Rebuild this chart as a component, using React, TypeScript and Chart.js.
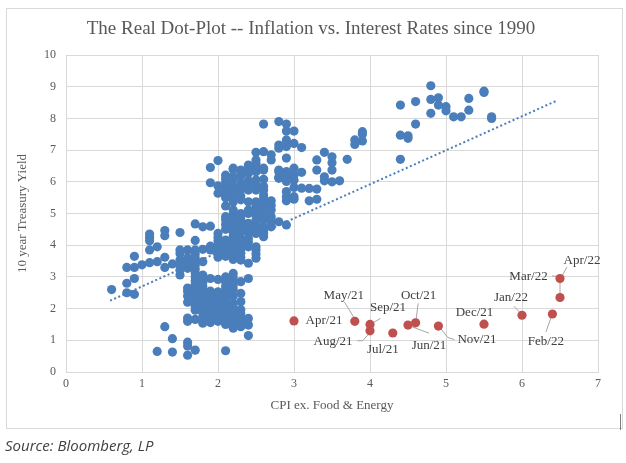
import React, { useEffect, useRef } from 'react';
import { Chart, registerables } from 'chart.js';

Chart.register(...registerables);

// ---- Data ----
const chartTitle = 'The Real Dot-Plot -- Inflation vs. Interest Rates since 1990';
const xAxisTitle = 'CPI ex. Food & Energy';
const yAxisTitle = '10 year Treasury Yield';
const sourceText = 'Source: Bloomberg, LP';

// Historical (1990 - Mar 2021): core CPI levels and the 10y yields observed at each level
const blueCpiLevels = [
  0.6, 0.8, 0.9, 1.0, 1.1, 1.2, 1.3, 1.4, 1.5, 1.6, 1.7, 1.8, 1.9, 2.0, 2.1, 2.2, 2.3, 2.4,
  2.5, 2.6, 2.7, 2.8, 2.9, 3.0, 3.1, 3.2, 3.3, 3.4, 3.5, 3.6, 3.7, 3.8, 3.9, 4.4, 4.5, 4.6,
  4.8, 4.9, 5.0, 5.1, 5.2, 5.3, 5.5, 5.6,
];
const blueYieldsByLevel = [
  [2.6],
  [2.5, 2.8, 3.3],
  [2.45, 2.95, 3.3, 3.65],
  [3.38],
  [3.45, 3.85, 4.14, 4.25, 4.35],
  [0.65, 3.48, 3.95],
  [1.43, 3.3, 3.62, 4.3, 4.46],
  [0.63, 1.05, 3.41],
  [3.06, 3.22, 3.38, 3.53, 3.74, 3.85, 4.4],
  [0.53, 0.82, 0.94, 1.6, 1.7, 2.2, 2.4, 2.55, 2.65, 3.27, 3.43, 3.6, 3.85],
  [0.69, 1.66, 1.95, 2.05, 2.16, 2.28, 2.4, 2.52, 2.64, 2.76, 2.88, 3.0, 3.12, 3.24, 3.36, 3.48, 3.6, 3.72, 3.85, 4.15, 4.67],
  [1.54, 1.62, 1.74, 1.86, 1.98, 2.1, 2.22, 2.34, 2.46, 2.58, 2.7, 2.82, 2.94, 3.06, 3.48, 3.87, 4.58],
  [1.56, 1.68, 1.8, 1.92, 2.04, 2.16, 2.28, 2.4, 2.55, 2.95, 3.85, 3.97, 4.6, 5.97, 6.45],
  [1.6, 1.69, 1.81, 1.93, 2.05, 2.17, 2.29, 2.41, 2.53, 2.92, 3.62, 3.75, 3.88, 4.0, 4.13, 4.25, 4.37, 5.64, 5.87, 6.67],
  [0.67, 1.5, 1.62, 1.74, 1.86, 1.98, 2.1, 2.22, 2.34, 2.46, 2.58, 2.7, 2.85, 3.0, 3.65, 3.8, 3.92, 4.05, 4.16, 4.5, 4.65, 4.8, 4.9, 5.24, 5.5, 5.6, 5.73, 5.85, 5.97, 6.09, 6.21],
  [1.38, 1.45, 1.57, 1.69, 1.81, 1.93, 2.05, 2.17, 2.4, 2.6, 2.72, 2.85, 2.98, 3.11, 3.55, 3.68, 3.8, 3.92, 4.04, 4.16, 4.28, 4.4, 4.52, 4.64, 4.76, 4.88, 5.0, 5.11, 5.36, 5.48, 5.6, 5.73, 5.85, 6.08, 6.16, 6.39, 6.43],
  [1.43, 1.5, 1.6, 1.72, 1.84, 1.96, 2.22, 2.48, 2.85, 3.53, 3.62, 3.75, 3.86, 3.98, 4.1, 4.22, 4.4, 4.55, 4.7, 4.8, 4.9, 5.0, 5.43, 5.55, 5.74, 5.82, 5.95, 6.18, 6.32, 6.37],
  [1.15, 1.48, 1.69, 2.95, 3.43, 3.95, 4.1, 4.22, 4.4, 4.55, 4.69, 5.0, 5.11, 5.37, 5.74, 5.95, 6.03, 6.27, 6.32, 6.5, 6.53],
  [3.59, 3.72, 3.85, 3.95, 4.37, 4.48, 4.58, 4.69, 4.8, 4.95, 5.11, 5.24, 5.37, 5.74, 5.9, 6.06, 6.32, 6.43, 6.48, 6.58, 6.69, 6.93],
  [4.27, 4.37, 4.48, 4.58, 4.8, 4.98, 5.11, 5.24, 5.36, 5.48, 5.58, 5.74, 5.85, 6.08, 6.37, 6.43, 6.95, 7.82],
  [4.58, 4.74, 4.9, 5.11, 5.25, 5.4, 6.69, 6.85],
  [4.74, 6.11, 6.14, 6.32, 6.37, 7.06, 7.16, 7.9],
  [4.64, 5.4, 5.53, 5.69, 6.01, 6.14, 6.27, 6.32, 6.75, 7.11, 7.21, 7.32, 7.6, 7.82],
  [5.45, 5.53, 5.82, 6.05, 6.21, 6.43, 7.21, 7.6],
  [5.8, 6.3, 7.08],
  [5.4, 5.79],
  [5.45, 5.77, 6.37, 6.69],
  [6.03, 6.16, 6.93],
  [6.0, 6.37, 6.6, 6.79],
  [6.03],
  [6.71],
  [7.18, 7.32],
  [7.29, 7.5, 7.58],
  [6.71, 7.47, 8.42],
  [7.37, 7.45],
  [7.82, 8.53],
  [8.16, 8.6, 9.03],
  [8.42, 8.65],
  [8.24, 8.37],
  [8.05],
  [8.05],
  [8.26, 8.63],
  [8.82, 8.86],
  [8.0, 8.05],
];

// Recent months (Apr/21 - Apr/22)
const redMonths = ['Apr/21', 'May/21', 'Jun/21', 'Jul/21', 'Aug/21', 'Sep/21', 'Oct/21', 'Nov/21', 'Dec/21', 'Jan/22', 'Feb/22', 'Mar/22', 'Apr/22'];
const redCpi = [3.0, 3.8, 4.5, 4.3, 4.0, 4.0, 4.6, 4.9, 5.5, 6.0, 6.4, 6.5, 6.5];
const redYield = [1.61, 1.6, 1.48, 1.23, 1.3, 1.5, 1.55, 1.45, 1.51, 1.79, 1.83, 2.35, 2.95];

// Linear trendline endpoints
const trendCpi = [0.58, 6.45];
const trendYield = [2.25, 8.55];

// Label placement (pixel offsets from each red point): text centre and leader polyline
const labelLayout: { dx: number; dy: number; leader: number[][] }[] = [
  { dx: 30, dy: 0, leader: [] },
  { dx: -11, dy: -26, leader: [[-10.5, -19.5], [-1, -4]] },
  { dx: 21, dy: 20, leader: [[2, 1], [21, 8]] },
  { dx: -10, dy: 17, leader: [] },
  { dx: -37, dy: 11, leader: [[-12.5, 10], [-7.5, 10], [-1, 3]] },
  { dx: 18, dy: -17, leader: [[10.5, -6], [2, -1]] },
  { dx: 3, dy: -27, leader: [[2.5, -19.5], [0.5, -3]] },
  { dx: 38.5, dy: 14, leader: [[1.5, 1.5], [9.5, 11.5], [16, 13.5]] },
  { dx: -9.5, dy: -12, leader: [] },
  { dx: -11, dy: -18, leader: [[-8, -9], [-1, -1.5]] },
  { dx: -6.5, dy: 28, leader: [[-6.5, 18], [-1, 2.5]] },
  { dx: -31.5, dy: -21, leader: [[-8, -21.5], [0, -21], [0, -3]] },
  { dx: 22, dy: -17.5, leader: [[1, -1], [7, -11.5]] },
];

const BLUE = '#4a7ebb';
const RED = '#c0504d';
const GRID = '#d9d9d9';
const TEXT = '#595959';
const SERIF = "'Liberation Serif', 'DejaVu Serif', serif";

const labelPlugin = {
  id: 'redLabels',
  beforeDatasetsDraw(chart: any) {
    const meta = chart.getDatasetMeta(1);
    const ctx = chart.ctx;
    ctx.save();
    ctx.strokeStyle = '#a6a6a6';
    ctx.lineWidth = 1;
    meta.data.forEach((pt: any, i: number) => {
      const lay = labelLayout[i];
      if (!lay || lay.leader.length < 2) return;
      ctx.beginPath();
      lay.leader.forEach((p, j) => {
        const x = pt.x + p[0];
        const y = pt.y + p[1];
        if (j === 0) ctx.moveTo(x, y);
        else ctx.lineTo(x, y);
      });
      ctx.stroke();
    });
    ctx.restore();
  },
  afterDatasetsDraw(chart: any) {
    const meta = chart.getDatasetMeta(1);
    const ctx = chart.ctx;
    ctx.save();
    ctx.fillStyle = '#404040';
    ctx.font = `13px ${SERIF}`;
    ctx.textAlign = 'center';
    ctx.textBaseline = 'middle';
    meta.data.forEach((pt: any, i: number) => {
      const lay = labelLayout[i];
      ctx.fillText(redMonths[i], pt.x + lay.dx, pt.y + lay.dy);
    });
    ctx.restore();
  },
};

export default function App() {
  const canvasRef = useRef<HTMLCanvasElement | null>(null);

  useEffect(() => {
    document.body.style.margin = '0';
    const canvas = canvasRef.current;
    if (!canvas) return;

    const bluePoints: { x: number; y: number }[] = [];
    blueCpiLevels.forEach((cpi, i) => {
      blueYieldsByLevel[i].forEach((y) => bluePoints.push({ x: cpi, y }));
    });
    const redPoints = redCpi.map((x, i) => ({ x, y: redYield[i] }));
    const trendPoints = trendCpi.map((x, i) => ({ x, y: trendYield[i] }));

    const chart = new Chart(canvas, {
      type: 'scatter',
      data: {
        datasets: [
          {
            label: 'History',
            data: bluePoints,
            backgroundColor: BLUE,
            borderColor: BLUE,
            borderWidth: 0,
            pointRadius: 4.6,
            order: 2,
          },
          {
            label: 'Recent',
            data: redPoints,
            backgroundColor: RED,
            borderColor: RED,
            borderWidth: 0,
            pointRadius: 4.6,
            order: 1,
          },
          {
            label: 'Trend',
            type: 'line',
            data: trendPoints,
            borderColor: BLUE,
            borderWidth: 2,
            borderDash: [2, 2.5],
            pointRadius: 0,
            fill: false,
            order: 0,
          } as any,
        ],
      },
      options: {
        responsive: false,
        animation: false,
        devicePixelRatio: 1,
        layout: { padding: { left: 0, right: 28, top: 55, bottom: 0 } },
        plugins: {
          legend: { display: false },
          tooltip: { enabled: false },
          title: { display: false },
        },
        scales: {
          x: {
            type: 'linear',
            min: 0,
            max: 7,
            ticks: {
              stepSize: 1,
              color: TEXT,
              font: { family: SERIF, size: 12 },
              padding: 5,
            },
            grid: { color: GRID, drawTicks: false, lineWidth: 1 },
            border: { color: GRID },
            title: {
              display: true,
              text: xAxisTitle,
              color: TEXT,
              font: { family: SERIF, size: 13 },
              padding: { top: 0, bottom: 50 },
            },
            afterFit: (s: any) => {
              s.height = 91;
            },
          },
          y: {
            type: 'linear',
            min: 0,
            max: 10,
            ticks: {
              stepSize: 1,
              color: TEXT,
              font: { family: SERIF, size: 12 },
              padding: 10,
            },
            grid: { color: GRID, drawTicks: false, lineWidth: 1 },
            border: { color: GRID },
            title: {
              display: true,
              text: yAxisTitle,
              color: TEXT,
              font: { family: SERIF, size: 13 },
              padding: { top: 15, bottom: 0 },
            },
            afterFit: (s: any) => {
              s.width = 66;
            },
          },
        },
      },
      plugins: [labelPlugin],
    });

    return () => chart.destroy();
  }, []);

  return (
    <div style={{ position: 'relative', width: 626, height: 463, background: '#fff', overflow: 'hidden' }}>
      <div
        style={{
          position: 'absolute',
          left: 6,
          top: 8,
          width: 615,
          height: 419,
          border: `1px solid ${GRID}`,
        }}
      />
      <div
        style={{
          position: 'absolute',
          left: 620,
          top: 414,
          width: 1,
          height: 16,
          background: '#7f7f7f',
        }}
      />
      <canvas ref={canvasRef} width={626} height={463} style={{ position: 'absolute', left: 0, top: 0 }} />
      <div
        style={{
          position: 'absolute',
          left: 0,
          width: 622,
          top: 16,
          textAlign: 'center',
          fontFamily: SERIF,
          fontSize: 19,
          color: TEXT,
          lineHeight: '24px',
        }}
      >
        {chartTitle}
      </div>
      <div
        style={{
          position: 'absolute',
          left: 5,
          top: 435,
          fontFamily: "'Open Sans', sans-serif",
          fontStyle: 'italic',
          fontSize: 15,
          color: '#404040',
        }}
      >
        {sourceText}
      </div>
    </div>
  );
}
